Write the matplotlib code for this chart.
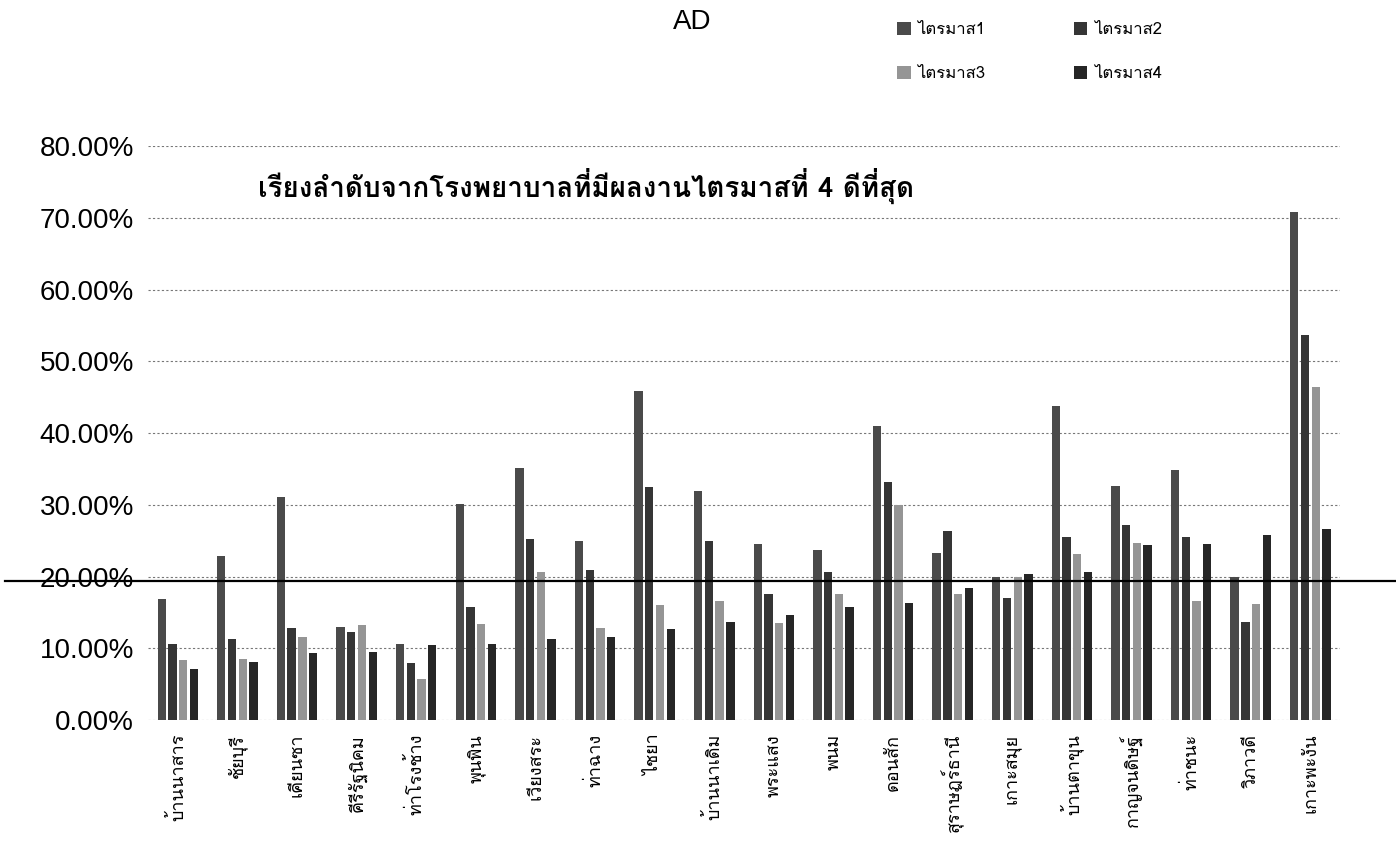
import numpy as np
import matplotlib
matplotlib.use('Agg')
import matplotlib.pyplot as plt
from matplotlib import font_manager
from matplotlib.ft2font import FT2Font
from matplotlib.ticker import FuncFormatter

hospitals = ['บ้านนาสาร', 'ชัยบุรี', 'เคียนซา', 'คีรีรัฐนิคม', 'ท่าโรงช้าง',
             'พุนพิน', 'เวียงสระ', 'ท่าฉาง', 'ไชยา', 'บ้านนาเดิม',
             'พระแสง', 'พนม', 'ดอนสัก', 'สุราษฎร์ธานี', 'เกาะสมุย',
             'บ้านตาขุน', 'กาญจนดิษฐ์', 'ท่าชนะ', 'วิภาวดี', 'เกาะพะงัน']
series_names = ['ไตรมาส1', 'ไตรมาส2', 'ไตรมาส3', 'ไตรมาส4']

# percent values
q1 = [16.9, 22.9, 31.1, 13.0, 10.6, 30.1, 35.2, 24.9, 45.9, 31.9,
      24.5, 23.7, 41.0, 23.3, 19.9, 43.8, 32.6, 34.8, 19.9, 70.9]
q2 = [10.6, 11.3, 12.8, 12.3, 7.9, 15.8, 25.3, 20.9, 32.5, 24.9,
      17.6, 20.6, 33.2, 26.3, 17.0, 25.5, 27.2, 25.5, 13.7, 53.7]
q3 = [8.4, 8.5, 11.6, 13.2, 5.7, 13.4, 20.6, 12.8, 16.0, 16.6,
      13.5, 17.6, 30.0, 17.6, 19.9, 23.1, 24.7, 16.6, 16.2, 46.5]
q4 = [7.1, 8.1, 9.3, 9.5, 10.4, 10.6, 11.3, 11.6, 12.7, 13.7,
      14.6, 15.8, 16.3, 18.4, 20.3, 20.6, 24.4, 24.5, 25.8, 26.6]
target = 19.4

note = 'เรียงลำดับจากโรงพยาบาลที่มีผลงานไตรมาสที่ 4 ดีที่สุด'
colors = ['#4a4a4a', '#353535', '#959595', '#262626']


def thai_font():
    for f in font_manager.fontManager.ttflist:
        try:
            if 0x0E01 in FT2Font(f.fname).get_charmap():
                return f.name
        except Exception:
            pass
    return None


fam = thai_font()
plt.rcParams['font.family'] = ([fam] if fam else []) + ['DejaVu Sans']

fig = plt.figure(figsize=(13.96, 8.46), dpi=100)
ax = fig.add_axes([0.106, 0.149, 0.854, 0.678])

x = np.arange(len(hospitals))
w = 0.14
step = 0.18
bars = []
for i, vals in enumerate([q1, q2, q3, q4]):
    b = ax.bar(x + (i - 1.5) * step, np.array(vals) / 100.0, width=w,
               color=colors[i], label=series_names[i], zorder=3)
    bars.append(b)

ax.axhline(target / 100.0, xmin=-0.12, xmax=1.047, clip_on=False,
           color='black', lw=1.6, zorder=4)

ax.set_xlim(-0.5, len(hospitals) - 0.5)
ax.set_ylim(0, 0.8)
ax.set_yticks(np.arange(0, 0.81, 0.1))
ax.yaxis.set_major_formatter(FuncFormatter(lambda v, p: '%.2f%%' % (v * 100)))
ax.tick_params(axis='y', length=0, pad=10)
for t in ax.get_yticklabels():
    t.set_fontfamily('Liberation Sans')
    t.set_fontsize(20)
ax.set_xticks(x)
ax.set_xticklabels(hospitals, rotation=90, fontsize=13, va='top')
ax.tick_params(axis='x', length=0, pad=10)
ax.grid(axis='y', color='#777777', lw=0.8, ls=(0, (2, 2)), zorder=0)
for s in ax.spines.values():
    s.set_visible(False)

ax.text(0.092, 0.745, note, transform=ax.get_yaxis_transform(), fontsize=20,
        fontweight='bold', va='center')

fig.text(0.496, 0.974, 'AD', ha='center', va='center', fontsize=20,
         family='Liberation Sans')
# legend fills column-wise, so reorder to get q1 q2 / q3 q4 rows
order = [0, 2, 1, 3]
fig.legend([bars[k] for k in order], [series_names[k] for k in order],
           loc='upper left', bbox_to_anchor=(0.632, 0.992), ncol=2,
           frameon=False, fontsize=12, handlelength=0.8, handleheight=0.8,
           columnspacing=5.3, labelspacing=1.7, handletextpad=0.4)

fig.savefig('out.png', dpi=100)
